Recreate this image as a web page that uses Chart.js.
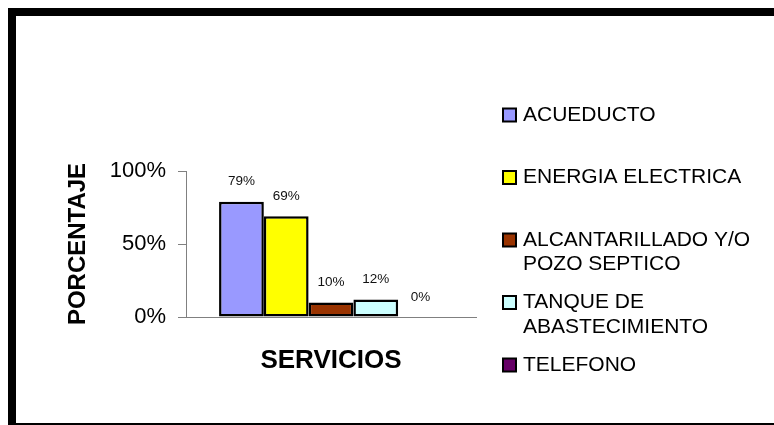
<!DOCTYPE html>
<html><head><meta charset="utf-8">
<script src="https://cdn.jsdelivr.net/npm/chart.js@4/dist/chart.umd.min.js"></script>
<style>
html,body{margin:0;padding:0;background:#fff;width:774px;height:425px;overflow:hidden;}
#c{position:absolute;left:0;top:0;}
#frame{position:absolute;left:8px;top:8px;width:800px;height:407px;border:8px solid #000;pointer-events:none;}
</style></head><body>
<canvas id="c" width="774" height="425"></canvas>
<div id="frame"></div>
<script>
const categories = [''];
const seriesNames = ['ACUEDUCTO', 'ENERGIA ELECTRICA', 'ALCANTARILLADO Y/O POZO SEPTICO', 'TANQUE DE ABASTECIMIENTO', 'TELEFONO'];
const seriesValues = [79, 69, 10, 12, 0];
const seriesColors = ['#9999FF', '#FFFF00', '#993300', '#CCFFFF', '#660066'];
const yTickValues = [0, 50, 100];
const yTitle = 'PORCENTAJE';
const xTitle = 'SERVICIOS';

const FONT = '"Liberation Sans", Arial, sans-serif';

const valueLabels = {
  id: 'valueLabels',
  afterDatasetsDraw(chart) {
    const ctx = chart.ctx;
    ctx.save();
    ctx.font = '13.5px ' + FONT;
    ctx.fillStyle = '#111';
    ctx.textAlign = 'center';
    ctx.textBaseline = 'middle';
    chart.data.datasets.forEach((ds, i) => {
      const meta = chart.getDatasetMeta(i);
      meta.data.forEach((el, j) => {
        ctx.fillText(ds.data[j] + '%', el.x, el.y - 20);
      });
    });
    ctx.restore();
  }
};

function wrap(ctx, text, maxW) {
  const words = text.split(' ');
  const lines = [];
  let cur = '';
  words.forEach(w => {
    const t = cur ? cur + ' ' + w : w;
    if (cur && ctx.measureText(t).width > maxW) { lines.push(cur); cur = w; }
    else cur = t;
  });
  if (cur) lines.push(cur);
  return lines;
}

const sideLegend = {
  id: 'sideLegend',
  afterDraw(chart) {
    const ctx = chart.ctx;
    ctx.save();
    ctx.font = '21px ' + FONT;
    ctx.textBaseline = 'middle';
    ctx.textAlign = 'left';
    const boxX = 503, box = 13, textX = 523, y0 = 115, step = 62.5, lineH = 24.5;
    chart.data.datasets.forEach((ds, i) => {
      const y = y0 + i * step;
      ctx.fillStyle = ds.backgroundColor;
      ctx.fillRect(boxX, y - box / 2, box, box);
      ctx.lineWidth = 2;
      ctx.strokeStyle = '#000';
      ctx.strokeRect(boxX, y - box / 2, box, box);
      ctx.fillStyle = '#000';
      wrap(ctx, ds.label, 245).forEach((ln, k) => ctx.fillText(ln, textX, y + k * lineH));
    });
    ctx.restore();
  }
};

new Chart(document.getElementById('c'), {
  type: 'bar',
  data: {
    labels: categories,
    datasets: seriesNames.map((n, i) => ({
      label: n,
      data: [seriesValues[i]],
      backgroundColor: seriesColors[i],
      borderColor: '#000',
      borderWidth: 2.5,
      borderSkipped: false,
      inflateAmount: 0,
      categoryPercentage: 0.772,
      barPercentage: 1
    }))
  },
  options: {
    responsive: false,
    animation: false,
    layout: { padding: { left: 0, right: 298, top: 171, bottom: 0 } },
    plugins: { legend: { display: false }, tooltip: { enabled: false } },
    scales: {
      x: {
        grid: { display: false },
        border: { display: true, color: '#808080', width: 1 },
        ticks: { display: false },
        title: { display: true, text: xTitle, color: '#000', font: { family: FONT, size: 26, weight: 'bold' }, padding: { top: 0, bottom: 49 } },
        afterFit(scale) { scale.height = 108; }
      },
      y: {
        min: 0, max: 100,
        afterBuildTicks(scale) { scale.ticks = yTickValues.map(v => ({ value: v })); },
        grid: { display: true, drawOnChartArea: false, drawTicks: true, tickLength: 8, color: '#808080' },
        border: { display: true, color: '#808080', width: 1 },
        ticks: { color: '#000', padding: 12, font: { family: FONT, size: 22 }, callback: v => v + '%' },
        title: { display: true, text: yTitle, color: '#000', font: { family: FONT, size: 24, weight: 'bold' }, padding: { top: 64, bottom: 0 } },
        afterFit(scale) { scale.width = 186; }
      }
    }
  },
  plugins: [valueLabels, sideLegend]
});
</script>
</body></html>
